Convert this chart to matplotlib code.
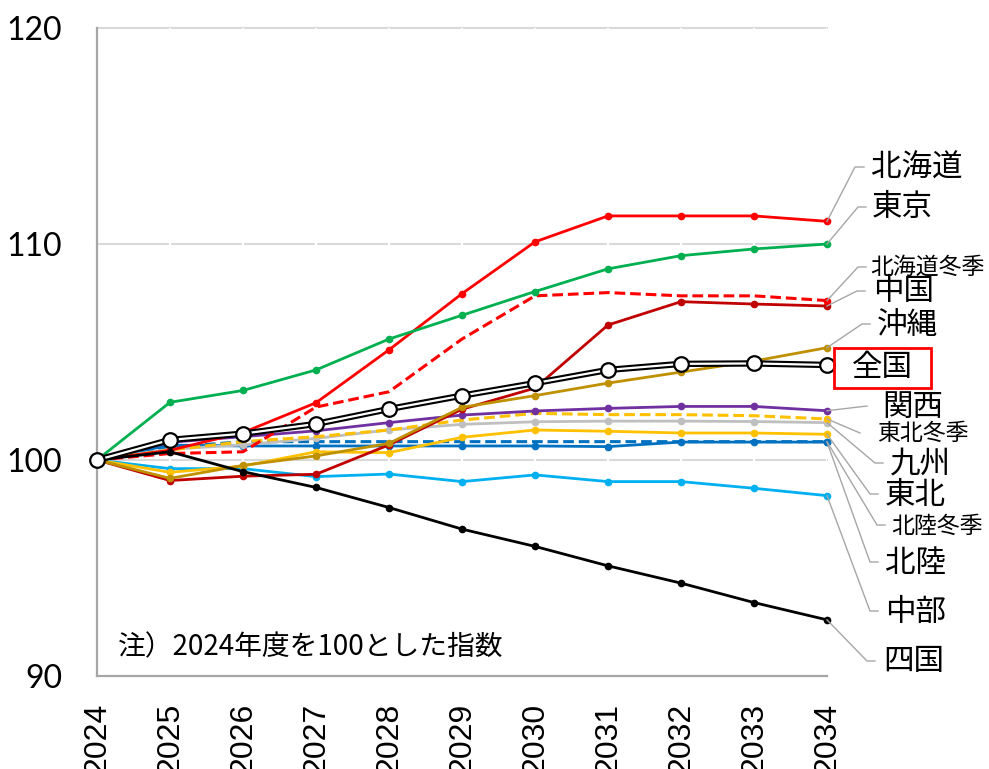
import matplotlib
matplotlib.use("Agg")
import matplotlib.pyplot as plt
from matplotlib.lines import Line2D
from matplotlib.patches import Rectangle

# ---- data -------------------------------------------------------------
years = list(range(2024, 2035))

hokkaido        = [100, 100.45, 101.27, 102.65, 105.10, 107.70, 110.10, 111.30, 111.30, 111.30, 111.05]
tokyo           = [100, 102.67, 103.22, 104.17, 105.60, 106.70, 107.80, 108.85, 109.46, 109.77, 110.00]
hokkaido_winter = [100, 100.30, 100.38, 102.45, 103.16, 105.60, 107.60, 107.75, 107.60, 107.60, 107.38]
chugoku         = [100, 99.05, 99.25, 99.34, 100.70, 102.35, 103.33, 106.25, 107.33, 107.22, 107.13]
okinawa         = [100, 99.15, 99.75, 100.19, 100.77, 102.44, 102.98, 103.56, 104.07, 104.58, 105.20]
zenkoku         = [100, 100.93, 101.22, 101.67, 102.36, 102.98, 103.56, 104.17, 104.45, 104.47, 104.40]
kansai          = [100, 100.82, 101.08, 101.35, 101.73, 102.08, 102.27, 102.39, 102.48, 102.48, 102.28]
tohoku_winter   = [100, 100.46, 100.85, 101.08, 101.39, 101.85, 102.16, 102.10, 102.10, 102.05, 101.90]
kyushu          = [100, 100.50, 100.70, 101.00, 101.39, 101.65, 101.77, 101.80, 101.80, 101.78, 101.73]
tohoku          = [100, 99.43, 99.72, 100.38, 100.34, 101.05, 101.39, 101.33, 101.25, 101.25, 101.19]
hokuriku_winter = [100, 100.59, 100.85, 100.85, 100.85, 100.85, 100.85, 100.85, 100.85, 100.85, 100.85]
hokuriku        = [100, 100.69, 100.65, 100.65, 100.65, 100.65, 100.65, 100.62, 100.83, 100.83, 100.83]
chubu           = [100, 99.60, 99.60, 99.23, 99.35, 99.00, 99.31, 99.00, 99.00, 98.69, 98.35]
shikoku         = [100, 100.38, 99.46, 98.73, 97.80, 96.80, 96.00, 95.10, 94.30, 93.40, 92.60]

y_ticks = [90, 100, 110, 120]
note = "注）2024年度を100とした指数"

# ---- figure -----------------------------------------------------------
W, H = 989, 769
fig = plt.figure(figsize=(W / 100, H / 100), dpi=100)
fig.patch.set_facecolor("white")
ax = fig.add_axes([97 / W, 1 - 676 / H, (827 - 97) / W, (676 - 28) / H])

ax.set_xlim(years[0], years[-1])
ax.set_ylim(y_ticks[0], y_ticks[-1])

# horizontal grid, broken at each year by thin white verticals
for yv in y_ticks[1:]:
    ax.axhline(yv, color="#D9D9D9", lw=1.5, zorder=1, clip_on=False)
for yr in years[1:]:
    ax.axvline(yr, color="white", lw=1.6, zorder=1.5)

for s in ["top", "right"]:
    ax.spines[s].set_visible(False)
for s in ["left", "bottom"]:
    ax.spines[s].set_color("#A6A6A6")
    ax.spines[s].set_linewidth(1.6)

ax.set_yticks(y_ticks)
ax.set_yticklabels([str(v) for v in y_ticks], fontfamily="Lato", fontsize=23)
ax.set_xticks(years)
ax.set_xticklabels([str(y) for y in years], rotation=90,
                   fontfamily="Liberation Sans", fontsize=23)
ax.tick_params(axis="y", length=0, pad=25)
ax.tick_params(axis="x", length=0, pad=19)

LW = 2.0
MS = 4.5
series = [
    # (values, color, dashed)
    (hokuriku_winter, "#0070C0", True),
    (hokuriku,        "#0070C0", False),
    (chubu,           "#00B0F0", False),
    (kyushu,          "#BFBFBF", False),
    (tohoku,          "#FFC000", False),
    (tohoku_winter,   "#FFC000", True),
    (kansai,          "#7030A0", False),
    (chugoku,         "#C00000", False),
    (okinawa,         "#BF9000", False),
    (hokkaido_winter, "#FF0000", True),
    (hokkaido,        "#FF0000", False),
    (tokyo,           "#00B050", False),
    (shikoku,         "#000000", False),
]
for vals, col, dashed in series:
    if dashed:
        ax.plot(years, vals, color=col, lw=2.2, dashes=(3.5, 1.6), zorder=3,
                clip_on=False, solid_capstyle="butt")
        ax.plot(years[-1:], vals[-1:], "o", color=col, ms=MS, zorder=3, clip_on=False)
    else:
        ax.plot(years, vals, color=col, lw=LW, marker="o", ms=MS, zorder=3,
                clip_on=False)

# national index: double black line with open circles
ax.plot(years, zenkoku, color="black", lw=4.6, zorder=5, clip_on=False)
ax.plot(years, zenkoku, color="white", lw=1.6, zorder=6, clip_on=False)
ax.plot(years, zenkoku, ls="none", marker="o", ms=10.5, mfc="white", mec="black",
        mew=1.6, zorder=7, clip_on=False)

# note
fig.text(118 / W, 1 - 647 / H, note, fontfamily="Noto Sans CJK JP", fontsize=20,
         ha="left", va="center")

# ---- right-hand labels with leader lines ------------------------------
def fpx(px, py):
    return px / W, 1 - py / H

labels = [
    # text, series, elbow (px), end (px), text x, text y, size
    ("北海道",     hokkaido,        (855, 167), (864, 167), 871, 168, 22),
    ("東京",       tokyo,           (858, 207), (866, 207), 872, 208, 22),
    ("北海道冬季", hokkaido_winter, (858, 267), (866, 267), 870, 267, 16.5),
    ("中国",       chugoku,         (857, 291), (865, 291), 873, 292, 22),
    ("沖縄",       okinawa,         (862, 324), (870, 324), 877, 326, 22),
    ("関西",       kansai,          (867, 406), (867, 406), 882, 407, 22),
    ("東北冬季",   tohoku_winter,   (860, 433), (860, 433), 877, 433, 16.5),
    ("九州",       kyushu,          (875, 463), (883, 463), 890, 464, 22),
    ("東北",       tohoku,          (870, 494), (878, 494), 885, 496, 22),
    ("北陸冬季",   hokuriku_winter, (877, 525), (885, 525), 891, 526, 16.5),
    ("北陸",       hokuriku,        (870, 562), (878, 562), 885, 563, 22),
    ("中部",       chubu,           (870, 611), (878, 611), 885, 612, 22),
    ("四国",       shikoku,         (867, 661), (875, 661), 883, 662, 22),
]
fig.canvas.draw()
for text, vals, elbow, end, tx, ty, fs in labels:
    dx, dy = ax.transData.transform((years[-1], vals[-1]))
    sx, sy = dx / W, dy / H
    ex, ey = fpx(*elbow)
    nx, ny = fpx(*end)
    fig.add_artist(Line2D([sx, ex, nx], [sy, ey, ny], transform=fig.transFigure,
                          color="#A6A6A6", lw=1.0, zorder=2))
    fig.text(tx / W, 1 - ty / H, text, fontfamily="Noto Sans CJK JP", fontsize=fs,
             ha="left", va="center")

# national label in a red frame
bx0, by0 = fpx(834, 388)
bx1, by1 = fpx(931, 348)
fig.add_artist(Rectangle((bx0, by0), bx1 - bx0, by1 - by0, transform=fig.transFigure,
                         fill=False, edgecolor="#FF0000", lw=2.0))
fig.text((bx0 + bx1) / 2, (by0 + by1) / 2, "全国", fontfamily="Noto Sans CJK JP",
         fontsize=22, ha="center", va="center")

fig.savefig("out.png", dpi=100)
